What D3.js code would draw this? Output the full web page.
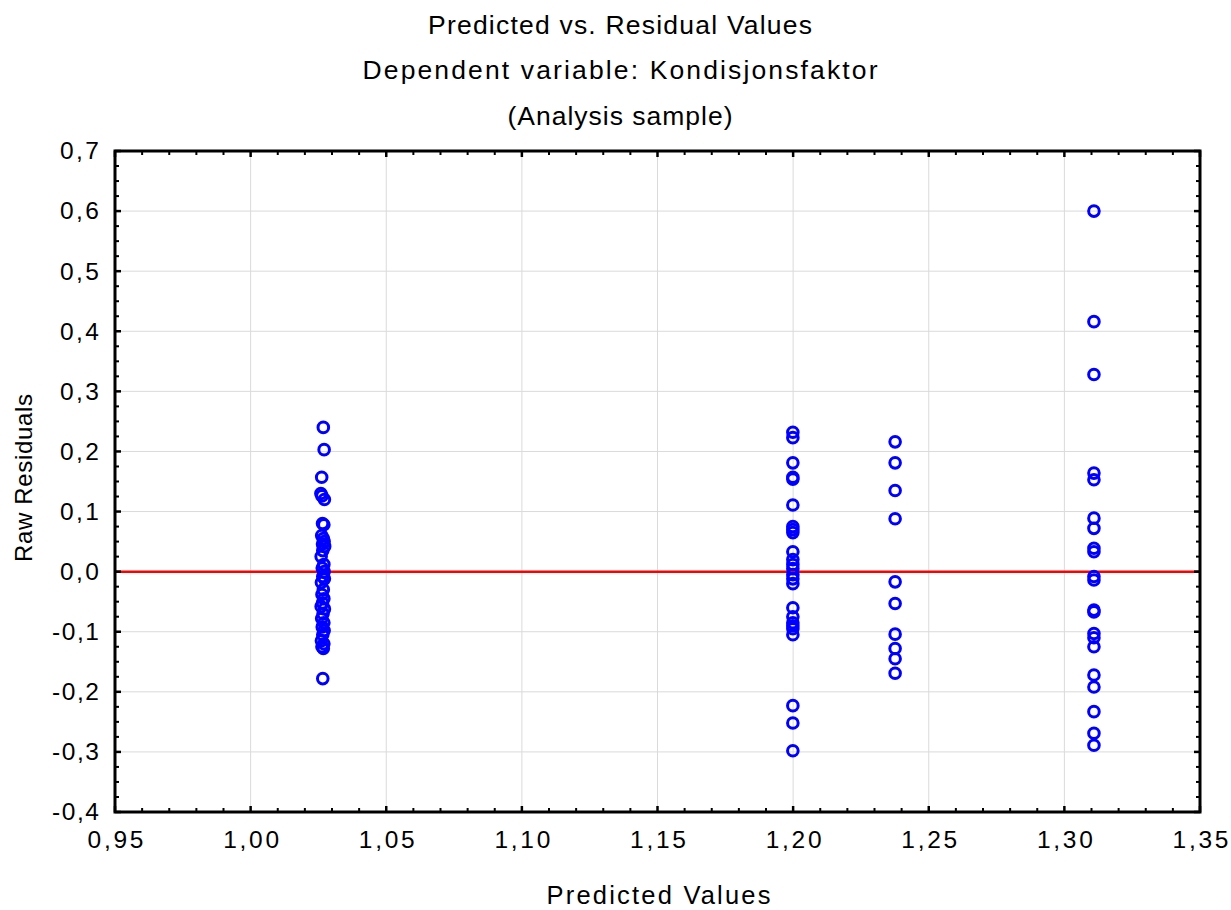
<!DOCTYPE html>
<html>
<head>
<meta charset="utf-8">
<script src="https://cdn.jsdelivr.net/npm/d3@7"></script>
<style>
  html, body { margin: 0; padding: 0; background: #fff; }
  svg { display: block; }
  text { font-family: "Liberation Sans", Arial, sans-serif; fill: #000; }
</style>
</head>
<body>
<svg id="chart" width="1231" height="910"></svg>
<script>
// Titles and axis labels
const titleLines = ["Predicted vs. Residual Values", "Dependent variable: Kondisjonsfaktor", "(Analysis sample)"];
const xAxisTitle = "Predicted Values";
const yAxisTitle = "Raw Residuals";

// Axis ticks
const xTicks = [0.95, 1.00, 1.05, 1.10, 1.15, 1.20, 1.25, 1.30, 1.35];
const yTicks = [-0.4, -0.3, -0.2, -0.1, 0.0, 0.1, 0.2, 0.3, 0.4, 0.5, 0.6, 0.7];

// Group 1: predicted values (slight spread) and residuals
const predicted1 = [1.0268, 1.0271, 1.0262, 1.0259, 1.0263, 1.0272, 1.0265, 1.0270, 1.0262, 1.0268,
                    1.0271, 1.0265, 1.0273, 1.0266, 1.0260, 1.0270, 1.0264, 1.0271, 1.0266, 1.0272,
                    1.0261, 1.0268, 1.0263, 1.0270, 1.0265, 1.0260, 1.0272, 1.0267, 1.0262, 1.0270,
                    1.0264, 1.0271, 1.0266, 1.0261, 1.0270, 1.0263, 1.0268, 1.0266];
const residual1  = [0.240, 0.203, 0.157, 0.130, 0.126, 0.120, 0.080, 0.078, 0.060, 0.055,
                    0.050, 0.046, 0.042, 0.035, 0.025, 0.012, 0.006, 0.000, -0.008, -0.012,
                    -0.018, -0.030, -0.038, -0.045, -0.052, -0.058, -0.062, -0.070, -0.078, -0.085,
                    -0.092, -0.098, -0.105, -0.115, -0.120, -0.125, -0.128, -0.178];

// Groups 2-4: one predicted value each
const predicted2 = 1.1999;
const residual2  = [0.232, 0.223, 0.181, 0.157, 0.154, 0.111, 0.075, 0.070, 0.065, 0.033,
                    0.020, 0.012, 0.005, -0.005, -0.012, -0.020, -0.060, -0.075, -0.085, -0.090,
                    -0.095, -0.105, -0.223, -0.252, -0.298];

const predicted3 = 1.2376;
const residual3  = [0.216, 0.181, 0.135, 0.088, -0.017, -0.053, -0.104, -0.128, -0.145, -0.169];

const predicted4 = 1.3109;
const residual4  = [0.600, 0.416, 0.328, 0.164, 0.153, 0.089, 0.072, 0.039, 0.033, -0.008,
                    -0.014, -0.064, -0.067, -0.103, -0.110, -0.125, -0.172, -0.192, -0.233, -0.269,
                    -0.289];

const points = [
  ...residual1.map((r, i) => ({ x: predicted1[i], y: r })),
  ...residual2.map(r => ({ x: predicted2, y: r })),
  ...residual3.map(r => ({ x: predicted3, y: r })),
  ...residual4.map(r => ({ x: predicted4, y: r }))
];

const svg = d3.select("#chart");
const plot = { left: 115, right: 1200, top: 151, bottom: 812 };

const x = d3.scaleLinear().domain([0.95, 1.35]).range([plot.left, plot.right]);
const y = d3.scaleLinear().domain([-0.4, 0.7]).range([plot.bottom, plot.top]);

// Decimal comma formatting
const fmtX = d => d3.format(".2f")(d).replace(".", ",").replace("\u2212", "-");
const fmtY = d => d3.format(".1f")(d).replace(".", ",").replace("\u2212", "-");

// Titles (three centred lines)
const titleWidths = [384, 515, 225];
const titleBase = [34, 79, 125];
svg.selectAll("text.title").data(titleLines).join("text")
  .attr("class", "title")
  .attr("x", 620)
  .attr("y", (d, i) => titleBase[i])
  .attr("text-anchor", "middle")
  .attr("textLength", (d, i) => titleWidths[i])
  .attr("lengthAdjust", "spacing")
  .style("font-size", "26.5px")
  .text(d => d);

// Gridlines
const grid = svg.append("g");
grid.selectAll("line.vx").data(xTicks.slice(1, -1)).join("line")
  .attr("x1", d => x(d)).attr("x2", d => x(d))
  .attr("y1", plot.top).attr("y2", plot.bottom)
  .attr("stroke", "#dadada").attr("stroke-width", 1);
grid.selectAll("line.hy").data(yTicks.slice(1, -1)).join("line")
  .attr("x1", plot.left).attr("x2", plot.right)
  .attr("y1", d => y(d)).attr("y2", d => y(d))
  .attr("stroke", "#dadada").attr("stroke-width", 1);

// Zero reference line
svg.append("line")
  .attr("x1", plot.left).attr("x2", plot.right)
  .attr("y1", y(0)).attr("y2", y(0))
  .attr("stroke", "#ff0000").attr("stroke-width", 2.5);

// Scatter points
svg.append("g").selectAll("circle").data(points).join("circle")
  .attr("cx", d => x(d.x))
  .attr("cy", d => y(d.y))
  .attr("r", 5.3)
  .attr("fill", "none")
  .attr("stroke", "#0000ff")
  .attr("stroke-width", 3);

// Inward ticks on all four sides (major + minor)
const xMinor = d3.range(0, 41).map(i => 0.95 + i * 0.01);
const yMinor = d3.range(0, 45).map(i => -0.4 + i * 0.025);
const ticks = svg.append("g").attr("stroke", "#000");
const isMajorX = v => xTicks.some(t => Math.abs(t - v) < 1e-6);
const isMajorY = v => yTicks.some(t => Math.abs(t - v) < 1e-6);

xMinor.forEach(v => {
  const len = isMajorX(v) ? 6 : 4;
  const w = isMajorX(v) ? 2.5 : 2;
  ticks.append("line").attr("x1", x(v)).attr("x2", x(v))
    .attr("y1", plot.bottom).attr("y2", plot.bottom - len).attr("stroke-width", w);
  ticks.append("line").attr("x1", x(v)).attr("x2", x(v))
    .attr("y1", plot.top).attr("y2", plot.top + len).attr("stroke-width", w);
});
yMinor.forEach(v => {
  const len = isMajorY(v) ? 6 : 4;
  const w = isMajorY(v) ? 2.5 : 2;
  ticks.append("line").attr("y1", y(v)).attr("y2", y(v))
    .attr("x1", plot.left).attr("x2", plot.left + len).attr("stroke-width", w);
  ticks.append("line").attr("y1", y(v)).attr("y2", y(v))
    .attr("x1", plot.right).attr("x2", plot.right - len).attr("stroke-width", w);
});

// Frame
svg.append("rect")
  .attr("x", plot.left).attr("y", plot.top)
  .attr("width", plot.right - plot.left).attr("height", plot.bottom - plot.top)
  .attr("fill", "none").attr("stroke", "#000").attr("stroke-width", 3);

// Tick labels via d3 axes (lines hidden, text kept)
const labelFont = '"Liberation Sans", Arial, sans-serif';
const xAxis = svg.append("g")
  .attr("transform", `translate(0,${plot.bottom})`)
  .call(d3.axisBottom(x).tickValues(xTicks).tickFormat(fmtX).tickSize(0).tickPadding(19));
xAxis.select(".domain").remove();
xAxis.selectAll("text")
  .attr("textLength", 56).attr("lengthAdjust", "spacing")
  .style("font-size", "24.5px").style("font-family", labelFont).attr("fill", "#000");

const yAxis = svg.append("g")
  .attr("transform", `translate(${plot.left},0)`)
  .call(d3.axisLeft(y).tickValues(yTicks).tickFormat(fmtY).tickSize(0).tickPadding(16));
yAxis.select(".domain").remove();
yAxis.selectAll("text")
  .attr("textLength", d => d < 0 ? 47 : 39).attr("lengthAdjust", "spacing")
  .style("font-size", "24.5px").style("font-family", labelFont).attr("fill", "#000");

// Axis titles
svg.append("text")
  .attr("x", (plot.left + plot.right) / 2 + 1).attr("y", 904)
  .attr("text-anchor", "middle").style("font-size", "25.5px")
  .attr("textLength", 224).attr("lengthAdjust", "spacing")
  .text(xAxisTitle);

svg.append("text")
  .attr("transform", `translate(32,478) rotate(-90)`)
  .attr("text-anchor", "middle").style("font-size", "24px")
  .attr("textLength", 168).attr("lengthAdjust", "spacing")
  .text(yAxisTitle);
</script>
</body>
</html>
